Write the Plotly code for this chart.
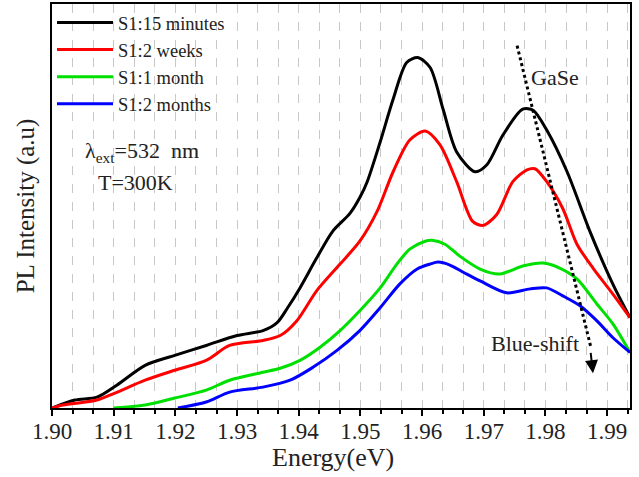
import plotly.graph_objects as go

# Energy (eV) and PL intensity (a.u.)
e_15min = [1.9000, 1.9037, 1.9073, 1.9105, 1.9151, 1.9199, 1.9250, 1.9300, 1.9342, 1.9365, 1.9382, 1.9402,
           1.9429, 1.9455, 1.9483, 1.9499, 1.9511, 1.9532, 1.9553, 1.9575, 1.9593, 1.9613, 1.9634, 1.9656,
           1.9686, 1.9705, 1.9731, 1.9763, 1.9780, 1.9802, 1.9835, 1.9872, 1.9909, 1.9937]
i_15min = [0, 8, 11, 23, 43, 53, 63, 73, 78, 86, 101, 121,
           151, 178, 196, 212, 228, 268, 311, 348, 353, 343, 301, 258,
           238, 245, 275, 301, 300, 280, 238, 178, 125, 91]

e_2weeks = [1.9000, 1.9018, 1.9073, 1.9102, 1.9151, 1.9199, 1.9250, 1.9288, 1.9342, 1.9370, 1.9397, 1.9429,
            1.9467, 1.9499, 1.9527, 1.9553, 1.9580, 1.9605, 1.9629, 1.9656, 1.9682, 1.9699, 1.9721, 1.9747,
            1.9770, 1.9783, 1.9802, 1.9828, 1.9851, 1.9877, 1.9909, 1.9937]
i_2weeks = [0, 3, 8, 15, 28, 38, 48, 63, 68, 73, 88, 118,
            145, 168, 198, 238, 270, 279, 265, 228, 188, 184, 195, 228,
            240, 241, 228, 201, 165, 141, 115, 91]

e_1month = [1.9100, 1.9151, 1.9199, 1.9250, 1.9288, 1.9342, 1.9370, 1.9402, 1.9434, 1.9467, 1.9499, 1.9532,
            1.9559, 1.9580, 1.9605, 1.9616, 1.9637, 1.9661, 1.9694, 1.9726, 1.9763, 1.9796, 1.9823, 1.9851,
            1.9883, 1.9909, 1.9937]
i_1month = [0, 3, 10, 18, 28, 36, 40, 48, 61, 78, 98, 121,
            145, 160, 168, 169, 165, 153, 140, 135, 143, 146, 141, 130,
            105, 85, 56]

e_2months = [1.9204, 1.9250, 1.9288, 1.9342, 1.9386, 1.9423, 1.9462, 1.9499, 1.9532, 1.9564, 1.9592, 1.9613,
             1.9626, 1.9645, 1.9669, 1.9694, 1.9737, 1.9775, 1.9802, 1.9828, 1.9856, 1.9883, 1.9909, 1.9937]
i_2months = [0, 6, 16, 21, 28, 41, 58, 78, 101, 125, 140, 145,
             147, 144, 136, 128, 116, 120, 121, 113, 103, 88, 71, 56]

series_names = ["S1:15 minutes", "S1:2 weeks", "S1:1 month", "S1:2 months"]
series_colors = ["#000000", "#ff0000", "#00e000", "#0000ff"]

x_ticks = [1.90, 1.91, 1.92, 1.93, 1.94, 1.95, 1.96, 1.97, 1.98, 1.99]
tick_labels = ["1.90", "1.91", "1.92", "1.93", "1.94", "1.95", "1.96", "1.97", "1.98", "1.99"]

# blue-shift arrow endpoints (data units)
arrow_start = (1.9754, 365)
arrow_end = (1.9877, 35)

FONT = "Liberation Serif"

fig = go.Figure()
for xs, ys, name, col in zip([e_15min, e_2weeks, e_1month, e_2months],
                             [i_15min, i_2weeks, i_1month, i_2months],
                             series_names, series_colors):
    fig.add_trace(go.Scatter(x=xs, y=ys, mode="lines", name=name,
                             line=dict(color=col, width=3, shape="spline", smoothing=0.8)))

# dotted arrow line
fig.add_shape(type="line", x0=arrow_start[0], y0=arrow_start[1], x1=arrow_end[0] - 0.0003, y1=arrow_end[1] + 25,
              line=dict(color="black", width=3, dash="dot"), layer="above")
fig.add_annotation(x=arrow_end[0], y=arrow_end[1], ax=arrow_end[0] - 0.0004, ay=arrow_end[1] + 22,
                   xref="x", yref="y", axref="x", ayref="y", showarrow=True,
                   arrowhead=2, arrowsize=1.3, arrowwidth=2, arrowcolor="black", text="")

ANN = dict(family=FONT, size=22, color="#222")
fig.add_annotation(x=1.9815, y=333, text="GaSe", showarrow=False, font=ANN)
fig.add_annotation(x=1.9783, y=65, text="Blue-shift", showarrow=False, font=ANN)
fig.add_annotation(x=1.9146, y=258, text="λ<sub>ext</sub>=532  nm", showarrow=False, font=ANN)
fig.add_annotation(x=1.9136, y=227, text="T=300K", showarrow=False, font=ANN)

# x-axis title placed as annotation below tick labels
fig.add_annotation(x=0.486, y=-0.122, xref="paper", yref="paper", yanchor="middle",
                   text="Energy(eV)", showarrow=False,
                   font=dict(family=FONT, size=26, color="#222"))

fig.update_layout(
    width=639, height=477,
    margin=dict(l=52, r=9, t=2, b=69),
    paper_bgcolor="white", plot_bgcolor="white",
    font=dict(family=FONT, color="#222"),
    showlegend=True,
    legend=dict(x=0.0, y=1.0, xanchor="left", yanchor="top", bgcolor="rgba(0,0,0,0)",
                font=dict(family=FONT, size=18.5, color="#222"), itemwidth=56,
                tracegroupgap=0),
    xaxis=dict(range=[1.9, 1.9937], tickvals=x_ticks, ticktext=tick_labels,
               showline=True, linecolor="black", linewidth=2, mirror=True,
               ticks="outside", ticklen=6, tickwidth=2, tickcolor="black",
               ticklabelstandoff=-5,
               tickfont=dict(family=FONT, size=23, color="#222"),
               showgrid=True, gridcolor="#c8c8c8", griddash="dash", gridwidth=1,
               zeroline=False,
               minor=dict(tick0=1.90, dtick=0.01 / 3, ticks="outside", ticklen=4, tickwidth=2,
                          tickcolor="black", showgrid=True, gridcolor="#c8c8c8", griddash="dash", gridwidth=1)),
    yaxis=dict(range=[0, 407], showticklabels=False, ticks="", showgrid=False, zeroline=False,
               showline=True, linecolor="black", linewidth=2, mirror=True,
               title=dict(text="PL Intensity (a.u)", font=dict(family=FONT, size=25, color="#222"), standoff=8)),
)

fig.write_html("out.html")
